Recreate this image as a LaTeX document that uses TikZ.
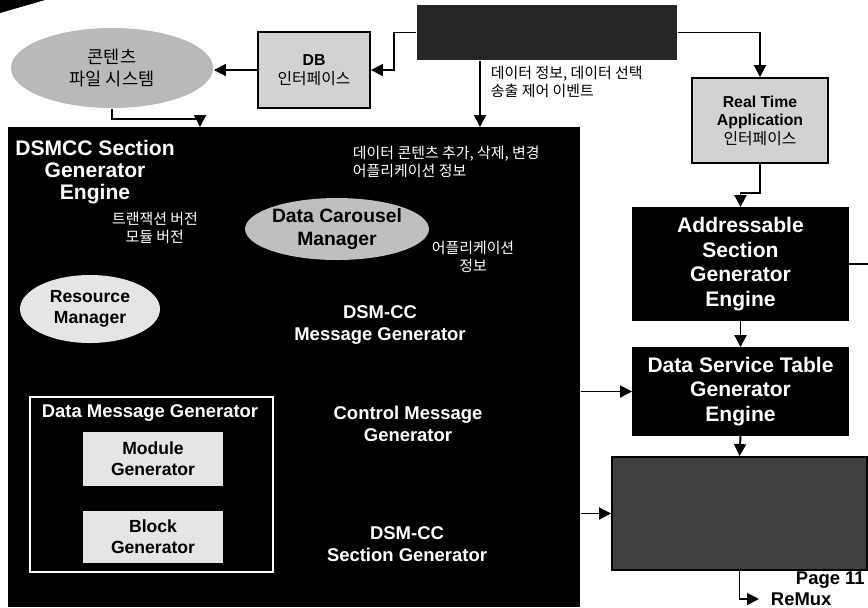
\documentclass[tikz,border=0pt]{standalone}
\usepackage{fontspec}
\setmainfont{Liberation Sans}
\newfontfamily\kr{Noto Sans CJK KR}
\usepackage{xcolor}
\usepackage{tikz}
\usetikzlibrary{arrows.meta, positioning, shapes.geometric}

\begin{document}
\begin{tikzpicture}[
    >={Triangle[length=2.4mm, width=2.4mm]}, line width=1.1pt,
    arr/.style={->, draw=black},
    darkbox/.style={rectangle, draw=black, fill=black, text=white, font=\bfseries\fontsize{12}{14}\selectfont, align=center, inner sep=1pt},
    greybox/.style={rectangle, draw=black, fill=gray!35, font=\bfseries\fontsize{9}{10.5}\selectfont, align=center, inner sep=1pt},
    blob/.style={ellipse, draw=none, align=center, inner sep=0pt},
    white label/.style={text=white, font=\bfseries\fontsize{10.5}{12.5}\selectfont, align=center},
    kr label/.style={font=\kr\fontsize{8.5}{10}\selectfont, align=left, inner sep=0pt}
]

\useasboundingbox (0,0) rectangle (17.36,-12.14);
\fill (0,0) -- (0.9,0) -- (0,-0.26) -- cycle;

\node[rectangle, fill=black, minimum width=11.44cm, minimum height=9.6cm] (engine) at (5.88,-7.34) {};
\node[white label, font=\bfseries\fontsize{12}{12.5}\selectfont] (title) at (1.9,-3.44) {DSMCC Section\\Generator\\Engine};

\node[rectangle, fill=black!85, minimum width=5.2cm, minimum height=1.1cm] (src) at (10.94,-0.65) {};
\node[greybox, minimum width=2.24cm, minimum height=1.52cm] (db) at (6.28,-1.4) {DB\\{\kr\mdseries 인터페이스}};
\node[blob, fill=gray!55, minimum width=4.04cm, minimum height=1.6cm, font=\kr\fontsize{10}{12.5}\selectfont] (cfs) at (2.24,-1.36) {콘텐츠\\파일 시스템};
\node[greybox, minimum width=2.72cm, minimum height=1.7cm] (rt) at (15.2,-2.41) {Real Time\\Application\\{\kr\mdseries 인터페이스}};
\node[kr label, anchor=west] (evt) at (9.8,-1.64) {데이터 정보, 데이터 선택\\송출 제어 이벤트};

\node[darkbox, minimum width=4.3cm, minimum height=2.24cm] (ase) at (14.81,-5.28) {Addressable\\Section\\Generator\\Engine};
\node[darkbox, minimum width=4.3cm, minimum height=1.74cm] (dst) at (14.81,-7.83) {Data Service Table\\Generator\\Engine};
\node[font=\bfseries\fontsize{10.5}{12}\selectfont, anchor=base west, inner sep=0pt] (page) at (15.9,-11.68) {Page 11};
\node[rectangle, draw=black, fill=black!75, minimum width=5.1cm, minimum height=2.26cm] (mux) at (14.79,-10.27) {};
\node[font=\bfseries\fontsize{10.5}{12}\selectfont, anchor=west, inner sep=0pt] (remux) at (15.4,-11.98) {ReMux};

\node[kr label, text=white] (trans) at (3.1,-4.56) {트랜잭션 버전\\\hspace*{0.9em}모듈 버전};
\node[blob, fill=gray!50, minimum width=3.04cm, minimum height=1.24cm, font=\bfseries\fontsize{11}{13}\selectfont] (dcm) at (6.74,-4.58) {Data Carousel\\Manager};
\node[kr label, text=white, anchor=west] (cont) at (7.04,-3.24) {데이터 콘텐츠 추가, 삭제, 변경\\어플리케이션 정보};
\node[kr label, text=white, align=center] (app) at (9.46,-5.14) {어플리케이션\\정보};
\node[blob, fill=gray!20, minimum width=2.8cm, minimum height=1.36cm, font=\bfseries\fontsize{10}{12}\selectfont] (rm) at (1.8,-6.18) {Resource\\Manager};
\node[white label] (msggen) at (7.6,-6.5) {DSM-CC\\Message Generator};

\node[rectangle, draw=white, line width=0.6pt, minimum width=4.86cm, minimum height=3.5cm] (dmg) at (3.03,-9.69) {};
\node[white label] (dmgtitle) at (3.0,-8.26) {Data Message Generator};
\node[rectangle, fill=gray!20, minimum width=2.8cm, minimum height=1.08cm, font=\bfseries\fontsize{10}{12}\selectfont, align=center] (module) at (3.06,-9.18) {Module\\Generator};
\node[rectangle, fill=gray!20, minimum width=2.8cm, minimum height=1.04cm, font=\bfseries\fontsize{10}{12}\selectfont, align=center] (block) at (3.06,-10.74) {Block\\Generator};
\node[white label] (ctrl) at (8.16,-8.48) {Control Message\\Generator};
\node[white label] (secgen) at (8.14,-10.88) {DSM-CC\\Section Generator};

\coordinate (in1) at (4.0,-2.54);
\coordinate (in2) at (9.6,-2.54);
\coordinate (out1) at (17.36,-5.28);

\draw[arr] (src.west) -- ++(-0.44,0) |- (db.east);
\draw[arr] (db.west) -- (db.west -| cfs.east);
\draw[arr] (cfs.south) -- ++(0,-0.2) -| (in1);
\draw[arr] (src.south -| in2) -- (in2);
\draw[arr] (src.east) -| (rt.north);
\draw[arr] (rt.south) -- ++(0,-0.58) -| (ase.north);
\draw (ase.east) -- (out1);
\draw[arr] (ase.south) -- (dst.north);
\draw[arr] (dst.south) -- (mux.north);
\draw[arr] (engine.east |- dst.west) -- (dst.west);
\draw[arr] (engine.east |- mux.west) -- (mux.west);
\draw[arr, shorten >=0.22cm] (mux.south) |- (remux.west);

\end{tikzpicture}
\end{document}
